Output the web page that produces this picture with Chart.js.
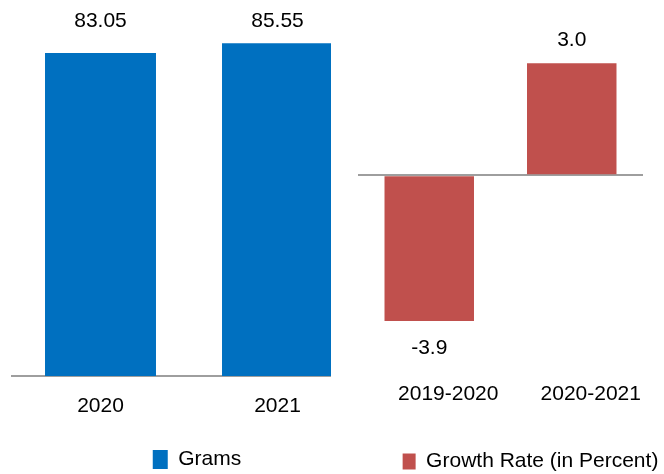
<!DOCTYPE html>
<html>
<head>
<meta charset="utf-8">
<title>Grams and growth rate</title>
<script src="https://cdn.jsdelivr.net/npm/chart.js@4.4.1/dist/chart.umd.min.js"></script>
<style>
  html, body { margin: 0; padding: 0; width: 664px; height: 474px; overflow: hidden; background: #fff; }
  canvas { position: absolute; top: 0; }
  #left { left: 0; }
  #right { left: 331px; background: #fff; }
</style>
</head>
<body>
<canvas id="left" width="390" height="490"></canvas>
<canvas id="right" width="380" height="490"></canvas>
<script>
const years = ['2020', '2021'];
const grams = [83.05, 85.55];
const periods = ['2019-2020', '2020-2021'];
const growth = [-3.9, 3.0];

const FONT = '"Liberation Sans", Arial, sans-serif';
const SIZE = 21;
Chart.defaults.font.family = FONT;
Chart.defaults.font.size = SIZE;
Chart.defaults.color = '#000';

// writes each bar's value above (or below) it
const valueLabels = {
  id: 'valueLabels',
  afterDatasetsDraw(chart, args, opts) {
    const ctx = chart.ctx;
    const values = chart.data.datasets[0].data;
    ctx.save();
    ctx.font = SIZE + 'px ' + FONT;
    ctx.fillStyle = '#000';
    ctx.textAlign = 'center';
    ctx.textBaseline = 'middle';
    chart.getDatasetMeta(0).data.forEach((bar, i) => {
      let v = values[i];
      let y;
      if (opts.atTop) {
        y = chart.chartArea.top - opts.gap;
      } else {
        y = v >= 0 ? bar.y - opts.gapPos : bar.y + opts.gapNeg;
      }
      ctx.fillText(v.toFixed(opts.digits), bar.x, y);
    });
    ctx.restore();
  }
};

new Chart(document.getElementById('left'), {
  type: 'bar',
  data: {
    labels: years,
    datasets: [{
      label: 'Grams',
      data: grams,
      backgroundColor: '#0070C0',
      categoryPercentage: 1,
      barPercentage: 0.627
    }]
  },
  options: {
    responsive: false,
    animation: false,
    layout: { padding: { top: 26, left: 12, right: 8, bottom: 10 } },
    plugins: {
      legend: {
        position: 'bottom',
        labels: { boxWidth: 15, boxHeight: 19, padding: 10, color: '#000' }
      },
      tooltip: { enabled: false },
      valueLabels: { atTop: true, gap: 5, digits: 2 }
    },
    scales: {
      x: {
        grid: { display: false, drawTicks: false },
        border: { display: true, color: '#9e9e9e', width: 2 },
        ticks: { padding: 18 },
        afterFit: (s) => { s.height = 63; }
      },
      y: {
        position: 'right',
        min: 0,
        max: 90,
        grid: { display: false, drawTicks: false },
        border: { display: false },
        ticks: { display: false },
        afterFit: (s) => { s.width = 16; }
      }
    }
  },
  plugins: [valueLabels]
});

new Chart(document.getElementById('right'), {
  type: 'bar',
  data: {
    labels: periods,
    datasets: [{
      label: 'Growth Rate (in Percent)',
      data: growth,
      backgroundColor: '#C0504D',
      categoryPercentage: 1,
      barPercentage: 0.628
    }]
  },
  options: {
    responsive: false,
    animation: false,
    layout: { padding: { top: 26, left: 27, right: 8, bottom: 8 } },
    plugins: {
      legend: {
        position: 'bottom',
        labels: { boxWidth: 13, boxHeight: 16, padding: 10, color: '#000' }
      },
      tooltip: { enabled: false },
      valueLabels: { gapPos: 23, gapNeg: 27, digits: 1 }
    },
    scales: {
      x: {
        grid: { display: false, drawTicks: false },
        border: { display: false },
        ticks: { padding: 20, labelOffset: 19 },
        afterFit: (s) => { s.height = 79; }
      },
      y: {
        position: 'right',
        min: -5,
        max: 4,
        ticks: { display: false, stepSize: 1 },
        grid: {
          drawTicks: false,
          lineWidth: 2,
          color: (c) => (c.tick && c.tick.value === 0 ? '#9e9e9e' : 'rgba(0,0,0,0)')
        },
        border: { display: false },
        afterFit: (s) => { s.width = 60; }
      }
    }
  },
  plugins: [valueLabels]
});
</script>
</body>
</html>
